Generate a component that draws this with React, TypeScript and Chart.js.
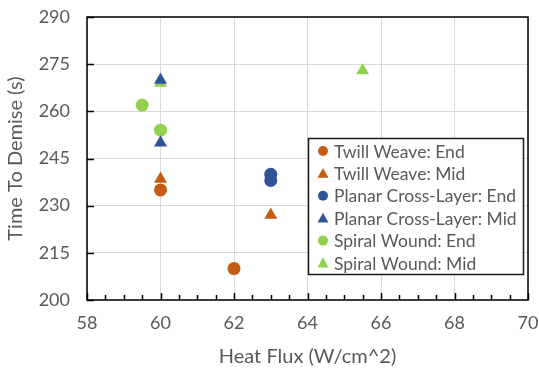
import React, { useEffect, useRef } from 'react';
import { Chart, registerables } from 'chart.js';

Chart.register(...registerables);

const xTitle = 'Heat Flux (W/cm^2)';
const yTitle = 'Time To Demise (s)';
const xMin = 58, xMax = 70, xStep = 2, xMinorStep = 0.5;
const yMin = 200, yMax = 290, yStep = 15;

const seriesNames = [
  'Twill Weave: End',
  'Twill Weave: Mid',
  'Planar Cross-Layer: End',
  'Planar Cross-Layer: Mid',
  'Spiral Wound: End',
  'Spiral Wound: Mid',
];
const twillEndX = [60, 62];
const twillEndY = [235, 210];
const twillMidX = [60, 63];
const twillMidY = [238.5, 227];
const planarEndX = [63, 63];
const planarEndY = [240, 238];
const planarMidX = [60, 60];
const planarMidY = [270, 250];
const spiralEndX = [59.5, 60];
const spiralEndY = [262, 254];
const spiralMidX = [60, 65.5];
const spiralMidY = [269, 273];

const ORANGE = '#C55A11';
const BLUE = '#2F5597';
const GREEN = '#92D050';
const TEXT = '#595959';
const FONT = 'Lato, "Open Sans", sans-serif';

const toPts = (xs: number[], ys: number[]) => xs.map((x, i) => ({ x, y: ys[i] }));

const framePlugin = {
  id: 'frame',
  beforeDatasetsDraw(chart: any) {
    const { ctx, chartArea: a, scales } = chart;
    const xs = scales.x, ys = scales.y;
    ctx.save();
    ctx.strokeStyle = '#000';
    ctx.lineWidth = 1.5;
    ctx.beginPath();
    for (let v = xMin; v <= xMax + 1e-9; v += xMinorStep) {
      const px = Math.round(xs.getPixelForValue(v)) + 0.5;
      const major = Math.abs(v / xStep - Math.round(v / xStep)) < 1e-6;
      const len = major ? 7 : 5;
      ctx.moveTo(px, a.bottom);
      ctx.lineTo(px, a.bottom - len);
    }
    for (let v = yMin; v <= yMax + 1e-9; v += yStep) {
      const py = Math.round(ys.getPixelForValue(v)) + 0.5;
      ctx.moveTo(a.left, py);
      ctx.lineTo(a.left + 7, py);
    }
    ctx.stroke();
    ctx.strokeRect(a.left, a.top, a.right - a.left, a.bottom - a.top);
    ctx.restore();
  },
};

const legendPlugin = {
  id: 'boxLegend',
  afterDraw(chart: any) {
    const { ctx } = chart;
    const left = 308, top = 138, w = 215, h = 136;
    ctx.save();
    ctx.fillStyle = '#fff';
    ctx.fillRect(left, top, w, h);
    ctx.strokeStyle = '#1a1a1a';
    ctx.lineWidth = 1.5;
    ctx.strokeRect(left + 0.5, top + 0.5, w, h);
    ctx.font = `17.5px ${FONT}`;
    ctx.textBaseline = 'middle';
    ctx.textAlign = 'left';
    chart.data.datasets.forEach((ds: any, i: number) => {
      const cy = top + 13 + i * 22.4;
      const cx = left + 15;
      ctx.fillStyle = ds.backgroundColor;
      ctx.beginPath();
      if (ds.pointStyle === 'triangle') {
        const r = 5.5;
        ctx.moveTo(cx, cy - r);
        ctx.lineTo(cx + r, cy + r * 0.8);
        ctx.lineTo(cx - r, cy + r * 0.8);
        ctx.closePath();
      } else {
        ctx.arc(cx, cy, 5, 0, Math.PI * 2);
      }
      ctx.fill();
      ctx.fillStyle = TEXT;
      ctx.fillText(ds.label, left + 26, cy + 1);
    });
    ctx.restore();
  },
};

function zeroPad(s: any) {
  s.paddingTop = 0;
  s.paddingBottom = 0;
  s.paddingLeft = 0;
  s.paddingRight = 0;
}

export default function App() {
  const ref = useRef<HTMLCanvasElement | null>(null);
  useEffect(() => {
    document.body.style.margin = '0';
    const canvas = ref.current!;
    const mk = (i: number, xs: number[], ys: number[], color: string, style: string) => ({
      label: seriesNames[i],
      data: toPts(xs, ys),
      backgroundColor: color,
      borderColor: color,
      borderWidth: 0,
      pointStyle: style,
      pointRadius: style === 'triangle' ? 7.5 : 6.5,
      showLine: false,
    });
    const chart = new Chart(canvas, {
      type: 'scatter',
      data: {
        datasets: [
          mk(0, twillEndX, twillEndY, ORANGE, 'circle'),
          mk(1, twillMidX, twillMidY, ORANGE, 'triangle'),
          mk(2, planarEndX, planarEndY, BLUE, 'circle'),
          mk(3, planarMidX, planarMidY, BLUE, 'triangle'),
          mk(4, spiralEndX, spiralEndY, GREEN, 'circle'),
          mk(5, spiralMidX, spiralMidY, GREEN, 'triangle'),
        ] as any,
      },
      options: {
        animation: false,
        responsive: false,
        devicePixelRatio: 1,
        layout: { padding: { left: 0, right: 11, top: 17, bottom: 0 } },
        plugins: { legend: { display: false }, tooltip: { enabled: false } },
        scales: {
          x: {
            type: 'linear',
            min: xMin,
            max: xMax,
            ticks: { stepSize: xStep, color: TEXT, font: { family: FONT, size: 18 }, padding: 12 },
            grid: { color: '#D9D9D9', lineWidth: 1, drawTicks: false },
            border: { display: false },
            title: { display: true, text: xTitle, color: TEXT, font: { family: FONT, size: 20 }, padding: { top: 4 } },
            afterFit(s: any) { s.height = 73; zeroPad(s); },
          },
          y: {
            type: 'linear',
            min: yMin,
            max: yMax,
            ticks: { stepSize: yStep, color: TEXT, font: { family: FONT, size: 18 }, padding: 17 },
            grid: { color: '#D9D9D9', lineWidth: 1, drawTicks: false },
            border: { display: false },
            title: { display: true, text: yTitle, color: TEXT, font: { family: FONT, size: 20 }, padding: { bottom: 2 } },
            afterFit(s: any) { s.width = 87; zeroPad(s); },
          },
        },
      },
      plugins: [framePlugin, legendPlugin],
    });
    return () => chart.destroy();
  }, []);
  return <canvas ref={ref} width={539} height={373} style={{ display: 'block' }} />;
}
